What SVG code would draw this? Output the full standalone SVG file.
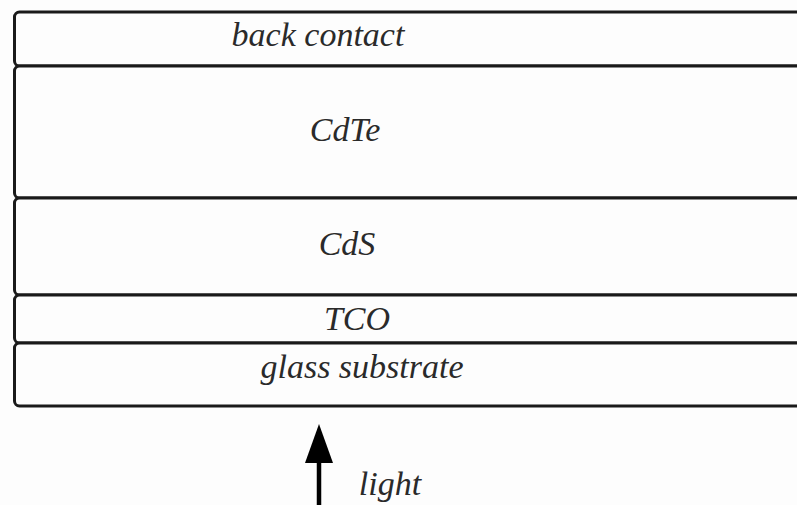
<svg xmlns="http://www.w3.org/2000/svg" width="797" height="505" viewBox="0 0 797 505">
  <style>
    .layer rect { fill: #fdfdfd; stroke: #1a1a1a; stroke-width: 3; }
    .lbl { font-family: "Liberation Serif", "Times New Roman", serif; font-style: italic; font-size: 34px; fill: #2a2a2a; text-anchor: middle; }
  </style>
  <rect width="797" height="505" fill="#fdfdfd"/>

  <!-- layer stack, light enters from the bottom -->
  <g id="back-contact" class="layer">
    <rect x="14.5" y="12" width="800" height="54" rx="5"/>
    <text class="lbl" x="318" y="46">back contact</text>
  </g>
  <g id="cdte" class="layer">
    <rect x="14.5" y="66" width="800" height="132" rx="5"/>
    <text class="lbl" x="345" y="141">CdTe</text>
  </g>
  <g id="cds" class="layer">
    <rect x="14.5" y="198" width="800" height="97" rx="5"/>
    <text class="lbl" x="347" y="255">CdS</text>
  </g>
  <g id="tco" class="layer">
    <rect x="14.5" y="295" width="800" height="48" rx="5"/>
    <text class="lbl" x="357" y="330">TCO</text>
  </g>
  <g id="glass-substrate" class="layer">
    <rect x="14.5" y="343" width="800" height="63" rx="5"/>
    <text class="lbl" x="362" y="378">glass substrate</text>
  </g>

  <!-- incoming light -->
  <g id="connectors">
    <line x1="319" y1="505" x2="319" y2="460" stroke="#000" stroke-width="4.5"/>
    <path d="M305,463 L319,424 L333,463 Z" fill="#000"/>
  </g>
  <g id="light">
    <text class="lbl" x="390" y="495">light</text>
  </g>
</svg>
